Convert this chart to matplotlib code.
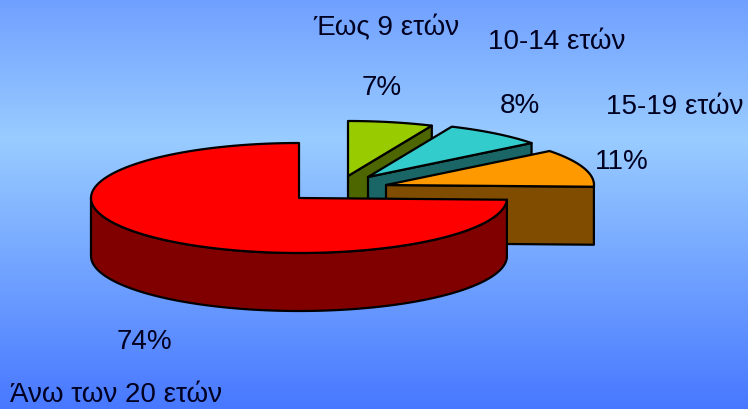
import numpy as np
import matplotlib
matplotlib.use('Agg')
import matplotlib.pyplot as plt
from matplotlib.colors import LinearSegmentedColormap
from matplotlib.patches import Polygon

# Age groups of the 3D pie, clockwise from 12 o'clock
labels = ['Έως 9 ετών', '10-14 ετών', '15-19 ετών', 'Άνω των 20 ετών']
pct_labels = ['7%', '8%', '11%', '74%']
values = [6.6, 7.8, 11.1, 74.5]

top_colors = ['#99CC00', '#33CCCC', '#FF9900', '#FF0000']
side_colors = ['#4D6600', '#1A6666', '#804D00', '#800000']

# Apex of every exploded slice, in pixels of the picture
centers = [(348, 176), (368, 177), (386, 185), (299, 198)]
label_pos = [(313, 35), (488, 49), (606, 114), (10, 402)]
pct_pos = [(362, 95), (500, 113), (595, 169), (117, 349)]

rx = 208
ry = 55
depth = 58
edge = dict(edgecolor='black', linewidth=1.6, joinstyle='round')

plt.rcParams['font.family'] = ['Liberation Sans', 'DejaVu Sans']

fig = plt.figure(figsize=(7.48, 4.09), dpi=100)
ax = fig.add_axes([0, 0, 1, 1])
ax.set_xlim(0, 748)
ax.set_ylim(409, 0)
ax.axis('off')

# Background gradient
cmap = LinearSegmentedColormap.from_list(
    'bg', [(0, '#70A0FF'), (0.34, '#99CCFF'), (1, '#4878FF')])
ax.imshow(np.linspace(0, 1, 256).reshape(-1, 1),
          extent=[0, 748, 409, 0],
          cmap=cmap,
          aspect='auto',
          zorder=0)


def rim(center, t):
    # t is clockwise from 12 o'clock, in radians
    return np.column_stack(
        (center[0] + rx * np.sin(t), center[1] - ry * np.cos(t)))


ends = np.cumsum(values) / np.sum(values) * 2 * np.pi
starts = np.concatenate(([0], ends[:-1]))

for i in range(len(values)):
    c = centers[i]
    t = np.linspace(starts[i], ends[i], 120)
    arc = rim(c, t)
    drop = np.array([0, depth])

    # Cut face on the clockwise end of the small slices
    if i < 3:
        face = np.array([c, arc[-1], arc[-1] + drop, np.array(c) + drop])
        ax.add_patch(Polygon(face, facecolor=side_colors[i], zorder=2 + i, **edge))
    else:
        # Front wall of the big slice, only the part facing the viewer
        front = arc[t <= np.pi * 1.5]
        wall = np.vstack((front, (front + drop)[::-1]))
        ax.add_patch(Polygon(wall, facecolor=side_colors[i], zorder=2 + i, **edge))

    top = np.vstack((c, arc))
    ax.add_patch(Polygon(top, facecolor=top_colors[i], zorder=2 + i, **edge))

for i in range(len(labels)):
    ax.text(label_pos[i][0], label_pos[i][1], labels[i],
            fontsize=20, color='#000020', ha='left', va='baseline', zorder=10)
    ax.text(pct_pos[i][0], pct_pos[i][1], pct_labels[i],
            fontsize=20, color='#000020', ha='left', va='baseline', zorder=10)

fig.savefig('out.png', dpi=100)
